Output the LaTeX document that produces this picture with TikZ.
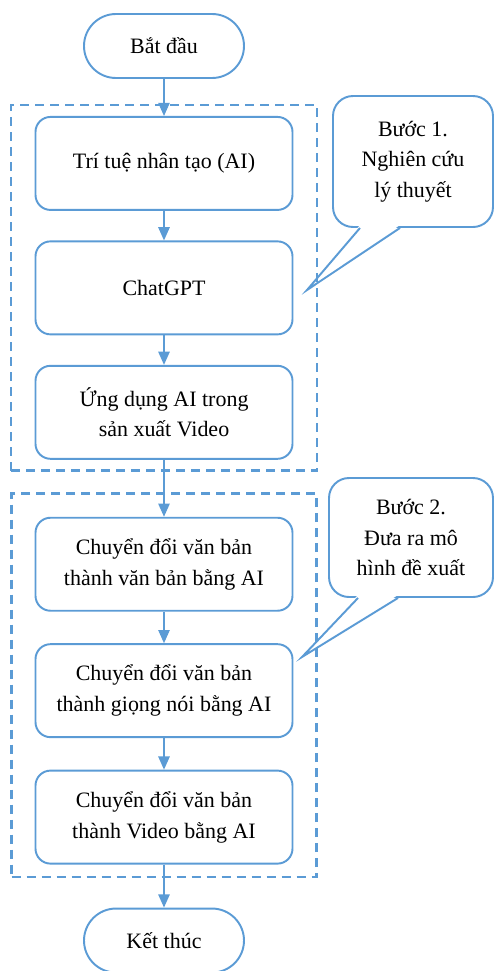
\documentclass[tikz,border=0pt]{standalone}
\usepackage{fontspec}
\setmainfont{Liberation Serif}
\usetikzlibrary{positioning,arrows.meta,fit}
\definecolor{lineblue}{RGB}{91,155,213}

\begin{document}
\begin{tikzpicture}[
    node distance=0.59cm,
    every node/.style={font=\fontsize{12.5}{17.5}\selectfont},
    stage/.style={rectangle,rounded corners=0.3cm,draw=lineblue,line width=1.1pt,
                  minimum width=5.14cm,minimum height=1.86cm,align=center},
    terminal/.style={rectangle,rounded corners=0.64cm,draw=lineblue,line width=1.1pt,
                  minimum width=3.2cm,minimum height=1.28cm},
    note/.style={rectangle,rounded corners=0.4cm,draw=lineblue,line width=1.1pt,
                  align=center,fill=white},
    group/.style={draw=lineblue,line width=1.5pt,dash pattern=on 0.18cm off 0.12cm},
    arrow/.style={-{Triangle[width=6.5pt,length=7.5pt]},draw=lineblue,line width=0.8pt}
]
\useasboundingbox (0,0) rectangle (9.88,-19.42);
\node[terminal] (start) at (3.28,-0.92) {Bắt đầu};
\node[stage,below=0.74cm of start] (ai) {Trí tuệ nhân tạo (AI)};
\node[stage,below=of ai] (chatgpt) {ChatGPT};
\node[stage,below=of chatgpt] (video) {Ứng dụng AI trong\\sản xuất Video};
\node[stage,below=1.14cm of video] (text) {Chuyển đổi văn bản\\thành văn bản bằng AI};
\node[stage,below=0.63cm of text] (voice) {Chuyển đổi văn bản\\thành giọng nói bằng AI};
\node[stage,below=0.63cm of voice] (clip) {Chuyển đổi văn bản\\thành Video bằng AI};
\node[terminal,below=0.86cm of clip] (finish) {Kết thúc};
\draw[arrow] (start) -- (ai);
\draw[arrow] (ai) -- (chatgpt);
\draw[arrow] (chatgpt) -- (video);
\draw[arrow] (video) -- (text);
\draw[arrow] (text) -- (voice);
\draw[arrow] (voice) -- (clip);
\draw[arrow] (clip) -- (finish);
\node[note,minimum width=3.2cm,minimum height=2.62cm] (step1) at (8.26,-3.23)
    {Bước 1.\\Nghiên cứu\\lý thuyết};
\coordinate (tip1) at (6.14,-5.8);
\fill[white] ([xshift=-1.06cm,yshift=0.06cm]step1.south) -- (tip1)
    -- ([xshift=-0.26cm,yshift=0.06cm]step1.south) -- cycle;
\draw[lineblue,line width=1.1pt] ([xshift=-1.06cm]step1.south) -- (tip1)
    -- ([xshift=-0.26cm]step1.south);
\node[note,minimum width=3.28cm,minimum height=2.38cm] (step2) at (8.22,-10.75)
    {Bước 2.\\Đưa ra mô\\hình đề xuất};
\coordinate (tip2) at (6.04,-13.14);
\fill[white] ([xshift=-1.06cm,yshift=0.06cm]step2.south) -- (tip2)
    -- ([xshift=-0.26cm,yshift=0.06cm]step2.south) -- cycle;
\draw[lineblue,line width=1.1pt] ([xshift=-1.06cm]step2.south) -- (tip2)
    -- ([xshift=-0.26cm]step2.south);
\node[group,fit=(ai)(video),inner xsep=0.47cm,inner ysep=0.22cm] (phase1) {};
\node[group,fit=(text)(clip),inner xsep=0.46cm,inner ysep=0.36cm,yshift=0.11cm] (phase2) {};
\end{tikzpicture}
\end{document}
